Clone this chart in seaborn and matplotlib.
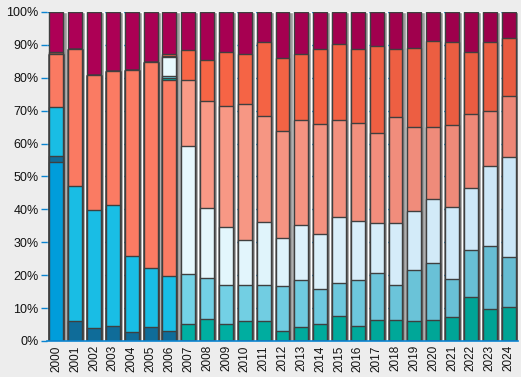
# stacked_share_chart.py
# 100% stacked bars, 2000-2024

import numpy as np
import pandas as pd
import matplotlib
matplotlib.use("Agg")
import matplotlib.pyplot as plt
import matplotlib.colors as mcolors
import seaborn as sns

years = [str(y) for y in range(2000, 2025)]

# segment shares (%) per year, bottom to top
blue = [54.3] + [0] * 24
dark_blue = [1.9, 6.0, 3.8, 4.5, 2.6, 4.4, 2.9] + [0] * 18
cyan = [14.8, 41.0, 35.9, 36.7, 23.1, 17.7, 17.0] + [0] * 18
salmon = [16.3, 41.6, 41.0, 40.8, 56.6, 62.8, 59.4] + [0] * 18
teal = [0] * 6 + [0.6, 5.1, 6.6, 5.1, 6.0, 6.0, 2.9, 4.2, 5.1, 7.5,
                  4.5, 6.3, 6.3, 6.0, 6.3, 7.2, 13.3, 9.6, 10.2]
light_blue = [0] * 6 + [0.6, 15.2, 12.4, 11.8, 10.9, 10.9, 13.7, 14.3, 10.7, 10.0,
                        13.9, 14.3, 10.6, 15.5, 17.3, 11.5, 14.3, 19.2, 15.2]
light_cyan = [0] * 6 + [5.7, 39.0, 21.3, 17.6, 13.7, 19.2, 14.6, 16.7, 16.6, 20.1,
                        18.0, 15.2, 18.9, 17.9, 19.5, 21.9, 18.8, 24.3, 30.4]
light_salmon = [0] * 6 + [0.4, 19.9, 32.6, 36.8, 41.3, 32.2, 32.5, 31.9, 33.5, 29.5,
                          29.8, 27.3, 32.2, 25.5, 21.8, 25.0, 22.5, 16.7, 18.6]
tomato = [0.5] + [0] * 5 + [0.6, 9.3, 12.4, 16.4, 15.2, 22.7, 22.4, 20.0, 22.7, 23.3,
                            22.7, 26.7, 20.9, 24.3, 26.4, 25.4, 18.8, 21.2, 17.8]
crimson = [12.2, 11.4, 19.3, 18.0, 17.7, 15.1, 12.8, 11.5, 14.7, 12.3, 12.9, 9.0, 13.9,
           12.9, 11.4, 9.6, 11.1, 10.2, 11.1, 10.8, 8.7, 9.0, 12.3, 9.0, 7.8]

# colour drift over the years: (first colour, last colour)
layer_colors = {
    "blue": ("#009ddb", "#009ddb"),
    "dark_blue": ("#0f6c99", "#0f6c99"),
    "cyan": ("#19bde4", "#19c2ea"),
    "salmon": ("#fa7a62", "#ff8068"),
    "teal": ("#00b5a8", "#00a394"),
    "light_blue": ("#7adcf0", "#66bcd2"),
    "light_cyan": ("#f2ffff", "#cbe6f7"),
    "light_salmon": ("#ffa38e", "#ec8676"),
    "tomato": ("#ff6a48", "#e85b40"),
    "crimson": ("#ae0056", "#9c004a"),
}


def blend(c1, c2, n):
    a = np.array(mcolors.to_rgb(c1))
    b = np.array(mcolors.to_rgb(c2))
    return [tuple(a + (b - a) * t) for t in np.linspace(0, 1, n)]


def build_frame():
    layers = {
        "blue": blue, "dark_blue": dark_blue, "cyan": cyan, "salmon": salmon,
        "teal": teal, "light_blue": light_blue, "light_cyan": light_cyan,
        "light_salmon": light_salmon, "tomato": tomato, "crimson": crimson,
    }
    df = pd.DataFrame(layers, index=years)
    return df


def plot_chart(df):
    sns.set_theme(style="white")
    plt.rcParams["font.family"] = ["Liberation Sans", "DejaVu Sans"]

    fig = plt.figure(figsize=(5.21, 3.77), dpi=100, facecolor="#ededed")
    ax = fig.add_axes([0.0902, 0.0955, 0.904, 0.8727])
    ax.set_facecolor("#efefef")

    cum = df.cumsum(axis=1)
    names = list(df.columns)
    # draw tallest first so lower stacks sit on top
    for k, name in enumerate(reversed(names)):
        palette = blend(*layer_colors[name], len(years))
        sns.barplot(x=years, y=cum[name].values, hue=years, palette=palette,
                    dodge=False, legend=False, width=0.74, saturation=1,
                    edgecolor="#3f3f3f", linewidth=1.0, ax=ax, zorder=3 + k)

    # bar shadows
    ax.bar(np.arange(len(years)) + 0.17, df.sum(axis=1).values, width=0.74,
           color="#9c9c9c", zorder=1.5)

    ax.set_xlim(-0.5, len(years) - 0.5)
    ax.set_ylim(0, 100)
    ax.set_yticks(np.arange(0, 101, 10))
    ax.set_yticklabels([f"{v}%" for v in range(0, 101, 10)], fontsize=9, color="#111111")
    ax.set_xticks(np.arange(len(years)))
    ax.set_xticklabels(years, rotation=90, fontsize=8.5, color="#111111")
    ax.set_xticks(np.arange(len(years) + 1) - 0.5, minor=True)
    ax.tick_params(axis="x", which="major", length=0, pad=3)
    ax.tick_params(axis="x", which="minor", length=4, color="#0a84d0", width=1)
    ax.tick_params(axis="y", length=4, color="#0a84d0", width=1, pad=2, left=True)
    ax.set_xlabel("")
    ax.set_ylabel("")

    ax.set_axisbelow(True)
    ax.yaxis.grid(True, color="#0a84d0", linestyle=(0, (2, 3)), linewidth=1)
    ax.xaxis.grid(False)
    for side in ["top", "right", "left"]:
        ax.spines[side].set_visible(False)
    ax.spines["bottom"].set_color("#0a84d0")
    ax.spines["bottom"].set_linewidth(1.2)
    ax.spines["bottom"].set_zorder(30)

    fig.savefig("out.png", dpi=100, facecolor=fig.get_facecolor())


def main():
    df = build_frame()
    plot_chart(df)


if __name__ == "__main__":
    main()
